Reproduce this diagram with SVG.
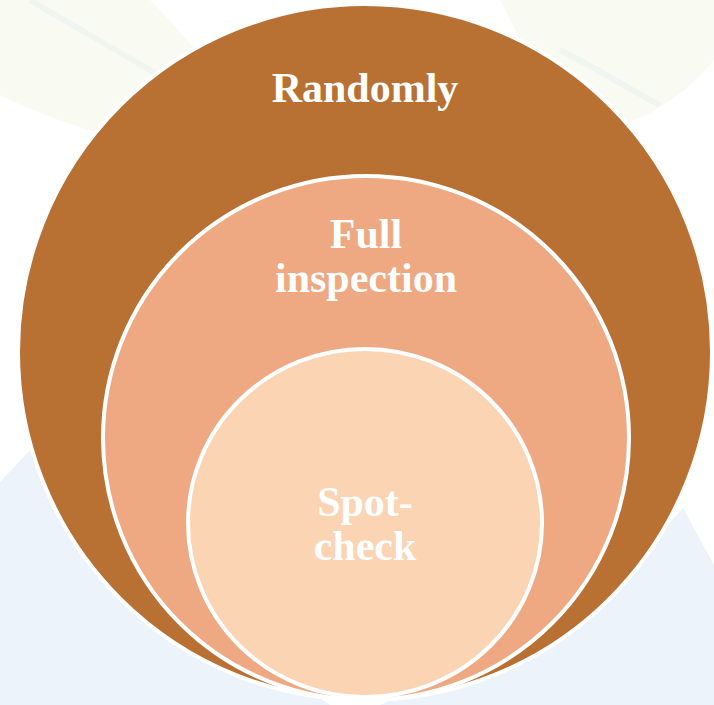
<svg xmlns="http://www.w3.org/2000/svg" width="714" height="705" viewBox="0 0 714 705">
<style>
.ring{stroke:#FFFFFF;stroke-width:4}
.lbl{font-family:"Liberation Serif","Times New Roman",serif;font-weight:bold;font-size:42px;fill:#FFFFFF;text-anchor:middle}
</style>
<rect width="714" height="705" fill="#FFFFFF"/>
<g id="background">
<path d="M0,0 L150,0 C190,40 220,80 240,120 C200,125 160,135 130,140 C80,130 30,110 0,95 Z" fill="#F9FBF3"/>
<path d="M30,0 C80,30 150,70 220,110" fill="none" stroke="#F1F5F0" stroke-width="6"/>
<path d="M500,0 L714,0 L714,60 C690,90 660,110 630,122 C600,100 560,60 520,40 Z" fill="#F9FBF3"/>
<path d="M560,50 C600,70 630,90 660,105" fill="none" stroke="#F1F5F0" stroke-width="6"/>
<path d="M0,482 L32,448 L120,560 L330,705 L0,705 Z" fill="#EDF3FA"/>
<path d="M683,508 L714,565 L714,705 L380,705 L600,600 Z" fill="#EDF3FA"/>
</g>
<g id="node-randomly">
<ellipse class="ring" cx="365" cy="352" rx="347" ry="348" fill="#B87033"/>
<text class="lbl" x="365" y="102">Randomly</text>
</g>
<g id="node-full-inspection">
<ellipse class="ring" cx="366" cy="438" rx="263" ry="262" fill="#EEA982"/>
<text class="lbl" x="366" y="248">Full</text>
<text class="lbl" x="366" y="292">inspection</text>
</g>
<g id="node-spot-check">
<ellipse class="ring" cx="365" cy="523" rx="177" ry="174" fill="#FBD4B4"/>
<text class="lbl" x="365" y="516">Spot-</text>
<text class="lbl" x="365" y="560">check</text>
</g>
<g id="connectors"/>
</svg>
